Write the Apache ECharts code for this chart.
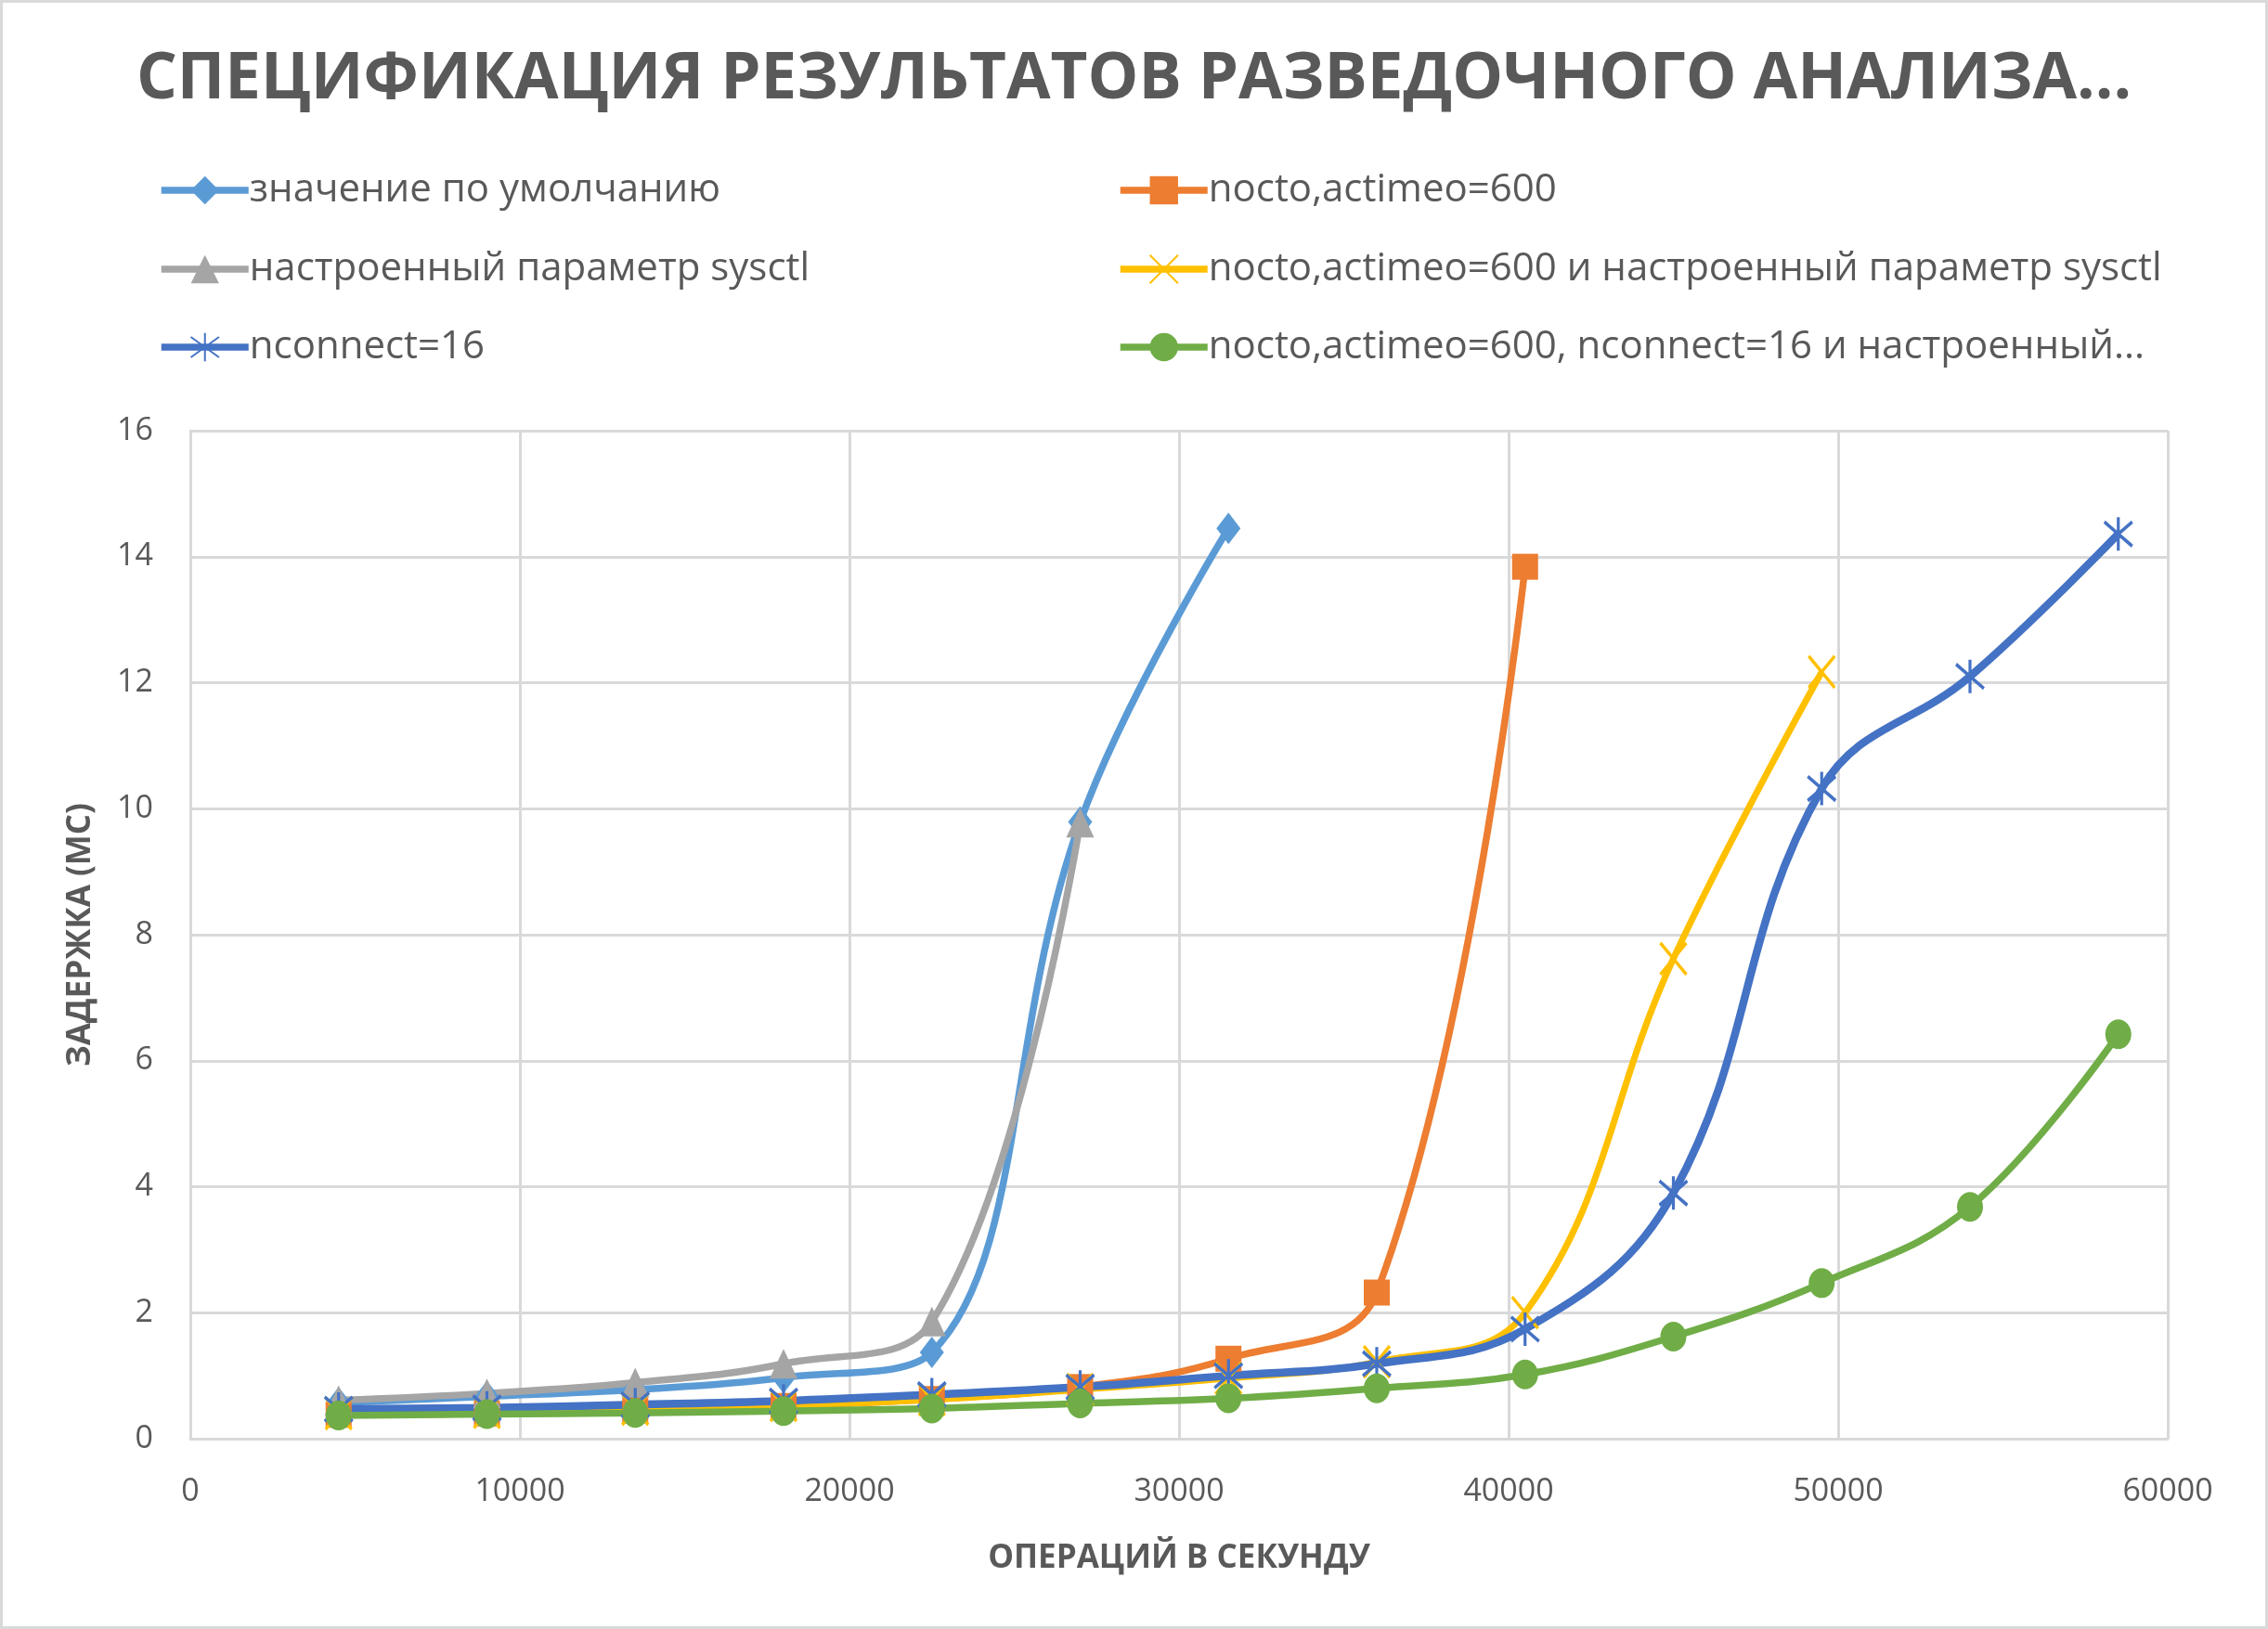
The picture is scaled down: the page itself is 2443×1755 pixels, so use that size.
<!DOCTYPE html>
<html><head><meta charset="utf-8">
<script src="https://cdn.jsdelivr.net/npm/echarts@6/dist/echarts.min.js"></script>
<style>
html,body{margin:0;padding:0;background:#fff;}
#c{width:2443px;height:1755px;box-sizing:border-box;border:3px solid #d9d9d9;}
</style></head><body>
<div id="c"></div>
<script>
const titleText = 'СПЕЦИФИКАЦИЯ РЕЗУЛЬТАТОВ РАЗВЕДОЧНОГО АНАЛИЗА...';
const xAxisName = 'ОПЕРАЦИЙ В СЕКУНДУ';
const yAxisName = 'ЗАДЕРЖКА (МС)';
const opsPerSec = [4500, 9000, 13500, 18000, 22500, 27000, 31500, 36000, 40500, 45000, 49500, 54000, 58500];
const seriesNames = [
  'значение по умолчанию',
  'nocto,actimeo=600',
  'настроенный параметр sysctl',
  'nocto,actimeo=600 и настроенный параметр sysctl',
  'nconnect=16',
  'nocto,actimeo=600, nconnect=16 и настроенный...'
];
const sDefault = [0.57, 0.67, 0.78, 0.97, 1.37, 9.79, 14.45];
const sNocto = [0.38, 0.40, 0.45, 0.52, 0.63, 0.82, 1.27, 2.32, 13.84];
const sSysctl = [0.61, 0.72, 0.89, 1.19, 1.86, 9.78];
const sNoctoSysctl = [0.40, 0.42, 0.47, 0.53, 0.62, 0.78, 0.96, 1.22, 2.0, 7.62, 12.17];
const sNconnect = [0.47, 0.49, 0.54, 0.60, 0.70, 0.82, 1.0, 1.19, 1.74, 3.9, 10.32, 12.1, 14.36];
const sAll = [0.37, 0.39, 0.41, 0.44, 0.48, 0.56, 0.64, 0.80, 1.02, 1.62, 2.47, 3.68, 6.42];
const xTicks = [0, 10000, 20000, 30000, 40000, 50000, 60000];
const yTicks = [0, 2, 4, 6, 8, 10, 12, 14, 16];

const pairs = arr => arr.map((v, i) => [opsPerSec[i], v]);
const colors = ['#5B9BD5', '#ED7D31', '#A5A5A5', '#FFC000', '#4472C4', '#70AD47'];
const symbols = ['diamond', 'rect', 'triangle', 'path://M-8 -10L8 10M-8 10L8 -10',
  'path://M0 -11L0 11M-9 -8L9 8M-9 8L9 -8', 'circle'];
const sizes = [[26, 34], 28, [30, 32], [28, 34], [30, 36], [28, 32]];
const widths = [7.5, 7.5, 7.5, 7, 8.5, 7.5];
const datas = [sDefault, sNocto, sSysctl, sNoctoSysctl, sNconnect, sAll];

const series = datas.map((d, i) => {
  const stroke = i === 3 || i === 4;
  return {
    name: seriesNames[i],
    type: 'line',
    data: pairs(d),
    smooth: 0.4,
    symbol: symbols[i],
    symbolSize: sizes[i],
    showAllSymbol: true,
    lineStyle: {color: colors[i], width: widths[i]},
    itemStyle: stroke ? {color: colors[i], borderColor: colors[i], borderWidth: 3.5}
                      : {color: colors[i], borderWidth: 0},
    emphasis: {disabled: true},
    animation: false
  };
});

const legendLeft = [167, 1200];
const legendRowCenter = [203, 288, 372];
const legends = seriesNames.map((n, i) => ({
  data: [n],
  left: legendLeft[i % 2],
  top: legendRowCenter[Math.floor(i / 2)] - 22,
  padding: 0,
  itemWidth: 94,
  itemHeight: 38,
  itemGap: 0,
  lineStyle: {width: 7.5},
  textStyle: {fontFamily: 'Open Sans', fontSize: 42, color: '#595959', padding: [0, 0, 0, -4]},
  selectedMode: false
}));

const chart = echarts.init(document.getElementById('c'), null, {renderer: 'canvas'});
chart.setOption({
  backgroundColor: '#fff',
  animation: false,
  title: {
    text: titleText, left: 'center', top: 44,
    textStyle: {fontFamily: 'Open Sans', fontWeight: 'bold', fontSize: 69, color: '#595959'}
  },
  legend: legends,
  grid: {left: 202, right: 105, top: 461, bottom: 202, containLabel: false},
  xAxis: {
    type: 'value', min: xTicks[0], max: xTicks[xTicks.length - 1], interval: 10000,
    name: xAxisName, nameLocation: 'middle', nameGap: 112,
    nameTextStyle: {fontFamily: 'Open Sans', fontWeight: 'bold', fontSize: 35, color: '#595959'},
    axisLine: {lineStyle: {color: '#D9D9D9', width: 3}},
    axisTick: {show: false},
    axisLabel: {fontFamily: 'Open Sans', fontSize: 34, color: '#595959', margin: 40,
      formatter: v => String(v)},
    splitLine: {show: true, lineStyle: {color: '#D9D9D9', width: 3}}
  },
  yAxis: {
    type: 'value', min: yTicks[0], max: yTicks[yTicks.length - 1], interval: 2,
    name: yAxisName, nameLocation: 'middle', nameGap: 100, nameRotate: 90,
    nameTextStyle: {fontFamily: 'Open Sans', fontWeight: 'bold', fontSize: 35, color: '#595959'},
    axisLine: {show: true, lineStyle: {color: '#D9D9D9', width: 3}},
    axisTick: {show: false},
    axisLabel: {fontFamily: 'Open Sans', fontSize: 34, color: '#595959', margin: 40},
    splitLine: {show: true, lineStyle: {color: '#D9D9D9', width: 3}}
  },
  series: series
});
</script>
</body></html>
